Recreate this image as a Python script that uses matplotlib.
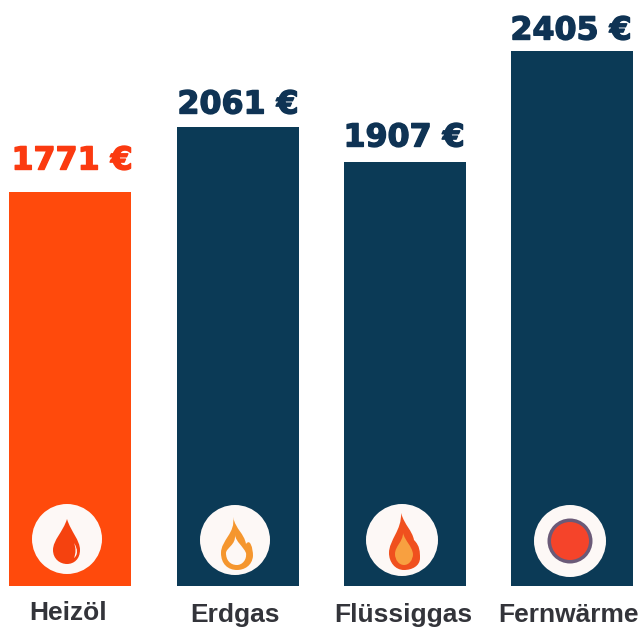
import matplotlib.pyplot as plt
import matplotlib.patheffects as pe
from matplotlib.patches import Circle, PathPatch
from matplotlib.path import Path

categories = ["Heizöl", "Erdgas", "Flüssiggas", "Fernwärme"]
values = [1771, 2061, 1907, 2405]
value_labels = ["1771 €", "2061 €", "1907 €", "2405 €"]
bar_colors = ["#ff4a0c", "#0b3a56", "#0b3a56", "#0b3a56"]
label_colors = ["#fb3a10", "#0f3354", "#0f3354", "#0f3354"]


def blob(pts):
    # closed smooth shape from curve segments, first point is the start
    codes = [Path.MOVETO] + [Path.CURVE4] * (len(pts) - 1)
    return Path(pts, codes)


fig = plt.figure(figsize=(6.42, 6.27), dpi=100)
ax = fig.add_axes([0, 0, 1, 1])
ax.set_xlim(-0.42, 3.417)
ax.set_ylim(-184, 2634)
ax.axis("off")

xs = range(len(categories))
ax.bar(xs, values, width=0.729, color=bar_colors)

# overlay in pixels for the icons and texts
over = fig.add_axes([0, 0, 1, 1])
over.set_xlim(0, 642)
over.set_ylim(627, 0)
over.axis("off")
over.patch.set_alpha(0)

label_x = [72, 238, 404, 571]
label_y = [161, 105, 138, 31]
cat_x = [68, 234.5, 403, 569]
cat_y = [613, 615, 615, 615]
for i in xs:
    t = over.text(label_x[i], label_y[i], value_labels[i], color=label_colors[i], ha="center", va="center",
                  fontsize=22.8, fontweight="bold", family="DejaVu Sans")
    t.set_path_effects([pe.withStroke(linewidth=1.0, foreground=label_colors[i])])
    over.text(cat_x[i], cat_y[i], categories[i], color="#33343a", ha="center", va="center",
              fontsize=19, fontweight="bold", family="Liberation Sans")

# white icon discs
centers = [(67, 539, 35), (235, 540, 35), (402, 540, 36), (570, 541, 36)]
for cx, cy, r in centers:
    over.add_patch(Circle((cx, cy), r, fc="#fdf8f6", ec="none"))

# oil drop
over.add_patch(PathPatch(blob([(67, 519), (63, 532), (53, 540), (53, 550),
                               (53, 559), (60, 564), (67, 564),
                               (74, 564), (80, 559), (80, 550),
                               (80, 540), (71, 532), (67, 519)]), fc="#f5420f", ec="none"))
over.add_patch(PathPatch(blob([(74, 543), (78, 549), (78, 555), (74, 558),
                               (76, 553), (76, 548), (74, 543)]), fc="#fdf8f6", ec="none"))

# natural gas flame, outline only
over.add_patch(PathPatch(blob([(233, 517), (236, 530), (244, 533), (246, 544),
                               (250, 538), (253, 548), (253, 556),
                               (252, 566), (244, 570), (237, 570),
                               (228, 570), (221, 564), (221, 553),
                               (221, 540), (236, 533), (233, 517)]), fc="#f5962e", ec="none"))
over.add_patch(PathPatch(blob([(235, 535), (236, 542), (243, 546), (246, 553),
                               (247, 560), (242, 565), (237, 565),
                               (230, 565), (226, 560), (226, 553),
                               (226, 548), (236, 545), (235, 535)]), fc="#fdf8f6", ec="none"))

# LPG flame
over.add_patch(PathPatch(blob([(401, 513), (405, 526), (412, 530), (414, 540),
                               (420, 546), (420, 552), (420, 558),
                               (420, 566), (412, 570), (404, 570),
                               (395, 570), (389, 562), (389, 553),
                               (389, 540), (402, 530), (401, 513)]), fc="#f0501e", ec="none"))
over.add_patch(PathPatch(blob([(403, 533), (405, 541), (412, 546), (413, 554),
                               (413, 560), (409, 565), (404, 565),
                               (399, 565), (395, 560), (395, 554),
                               (395, 546), (403, 542), (403, 533)]), fc="#f8a040", ec="none"))

# district heating dot
over.add_patch(Circle((570, 541), 22.5, fc="#6b5a78", ec="none"))
over.add_patch(Circle((570, 541), 19, fc="#f5442a", ec="none"))

fig.savefig("out.png", dpi=100)
